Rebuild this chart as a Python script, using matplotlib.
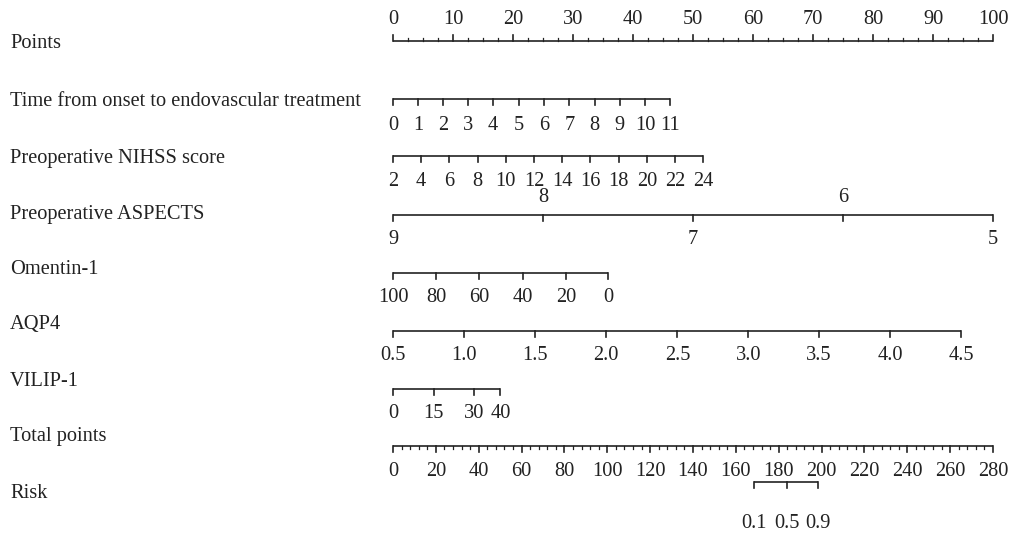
import matplotlib.pyplot as plt
import matplotlib.transforms as mtransforms

# Nomogram values (positions on the 0-100 points scale)
points_ticks = [0, 10, 20, 30, 40, 50, 60, 70, 80, 90, 100]
points_minor = [2.5, 5, 7.5, 12.5, 15, 17.5, 22.5, 25, 27.5, 32.5, 35, 37.5,
                42.5, 45, 47.5, 52.5, 55, 57.5, 62.5, 65, 67.5, 72.5, 75, 77.5,
                82.5, 85, 87.5, 92.5, 95, 97.5]

time_labels = ['0', '1', '2', '3', '4', '5', '6', '7', '8', '9', '10', '11']
time_points = [0, 4.2, 8.4, 12.5, 16.7, 21.0, 25.2, 29.4, 33.6, 37.8, 42.0, 46.2]

nihss_labels = ['2', '4', '6', '8', '10', '12', '14', '16', '18', '20', '22', '24']
nihss_points = [0, 4.7, 9.4, 14.1, 18.8, 23.5, 28.2, 32.9, 37.6, 42.3, 47.0, 51.7]

aspects_labels = ['9', '8', '7', '6', '5']
aspects_points = [0, 25, 50, 75, 100]

omentin_labels = ['100', '80', '60', '40', '20', '0']
omentin_points = [0, 7.2, 14.4, 21.6, 28.8, 35.9]

aqp4_labels = ['0.5', '1.0', '1.5', '2.0', '2.5', '3.0', '3.5', '4.0', '4.5']
aqp4_points = [0, 11.8, 23.7, 35.5, 47.4, 59.2, 71.0, 82.9, 94.7]

vilip_labels = ['0', '15', '30', '40']
vilip_points = [0, 6.8, 13.5, 17.9]

total_ticks = [0, 20, 40, 60, 80, 100, 120, 140, 160, 180, 200, 220, 240, 260, 280]
total_max = 280

risk_labels = ['0.1', '0.5', '0.9']
risk_total = [168.4, 183.8, 198.1]

row_names = ['Points', 'Time from onset to endovascular treatment',
             'Preoperative NIHSS score', 'Preoperative ASPECTS', 'Omentin-1',
             'AQP4', 'VILIP-1', 'Total points', 'Risk']

FONT = 'Liberation Serif'
COLOR = '#222222'
FS = 14.7


def draw_scale(ax, y, pos, labels=None, below=True, ticklen=6, label_off=15,
               minor=None, minor_len=3, up=False):
    """Trace une echelle horizontale avec ses graduations"""
    ax.plot([pos[0], pos[-1]], [y, y], color=COLOR, lw=1.2,
            solid_capstyle='butt', clip_on=False)
    sign = -1 if up else 1
    for p in pos:
        ax.plot([p, p], [y, y + sign * ticklen], color=COLOR, lw=1.2, clip_on=False)
    if minor is not None:
        for p in minor:
            ax.plot([p, p], [y, y + sign * minor_len], color=COLOR, lw=0.9, clip_on=False)
    if labels is None:
        return
    for p, lab in zip(pos, labels):
        ty = y + label_off if below else y - label_off
        ax.text(p, ty, lab, ha='center', va='center', fontsize=FS,
                family=FONT, color=COLOR)


fig = plt.figure(figsize=(10.1, 5.33), dpi=100)
ax = fig.add_axes([393 / 1010, 0, 600 / 1010, 1])
ax.set_xlim(0, 100)
ax.set_ylim(533, 0)
ax.axis('off')

# Points (graduations vers le haut, etiquettes au-dessus)
draw_scale(ax, 41, points_ticks, [str(v) for v in points_ticks], below=False,
           minor=points_minor, up=True, label_off=21)

draw_scale(ax, 99, time_points, time_labels, label_off=27)
draw_scale(ax, 156, nihss_points, nihss_labels, label_off=25)

# ASPECTS : etiquettes alternees dessus / dessous
draw_scale(ax, 215, aspects_points)
for i, (p, lab) in enumerate(zip(aspects_points, aspects_labels)):
    ty = 215 + 24 if i % 2 == 0 else 215 - 18
    ax.text(p, ty, lab, ha='center', va='center', fontsize=FS, family=FONT, color=COLOR)

draw_scale(ax, 273, omentin_points, omentin_labels, label_off=25)
draw_scale(ax, 331, aqp4_points, aqp4_labels, label_off=25)
draw_scale(ax, 389, vilip_points, vilip_labels, label_off=25)

# Total points : conversion vers l'echelle 0-100
total_pos = [t * 100 / total_max for t in total_ticks]
total_minor = [t * 100 / total_max for t in range(0, total_max + 1, 4) if t % 20]
draw_scale(ax, 446, total_pos, [str(t) for t in total_ticks], minor=total_minor,
           minor_len=2.5, label_off=25)

risk_pos = [t * 100 / total_max for t in risk_total]
draw_scale(ax, 482, risk_pos, risk_labels, label_off=41)

# Noms des lignes a gauche
trans = mtransforms.blended_transform_factory(fig.transFigure, ax.transData)
row_y = [44, 102, 158, 214, 269, 325, 381, 437, 493]
for name, yy in zip(row_names, row_y):
    ax.text(10 / 1010, yy, name, transform=trans, ha='left', va='center',
            fontsize=FS, family=FONT, color=COLOR)

fig.savefig('out.png', dpi=100, facecolor='white')
